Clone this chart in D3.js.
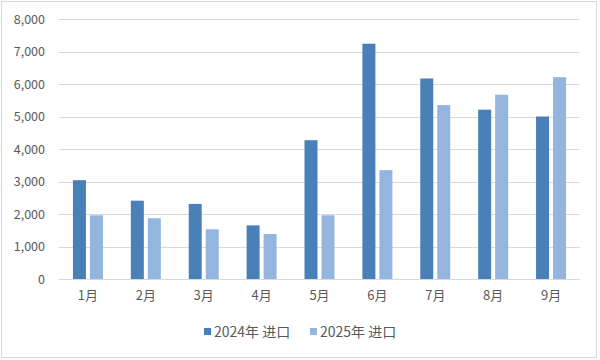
<!DOCTYPE html>
<html>
<head>
<meta charset="utf-8">
<script src="https://cdn.jsdelivr.net/npm/d3@7"></script>
<style>
  html, body { margin: 0; padding: 0; background: #fff; }
  svg { display: block; }
  text { font-family: "Noto Sans CJK SC", "Open Sans", sans-serif; fill: #595959; }
</style>
</head>
<body>
<svg id="chart" width="600" height="360"></svg>
<script>
const categories = ["1月", "2月", "3月", "4月", "5月", "6月", "7月", "8月", "9月"];
const seriesNames = ["2024年 进口", "2025年 进口"];
const imports2024 = [3040, 2410, 2310, 1650, 4270, 7240, 6170, 5210, 5000];
const imports2025 = [1960, 1870, 1530, 1385, 1960, 3350, 5350, 5670, 6210];
const yTicks = [0, 1000, 2000, 3000, 4000, 5000, 6000, 7000, 8000];
const colors = ["#4a80b8", "#93b5de"];

const svg = d3.select("#chart");
const W = 600, H = 360;
const margin = { left: 59, right: 20, top: 19, bottom: 81 };
const x0 = margin.left, x1 = W - margin.right;
const yTop = margin.top, yBot = H - margin.bottom;

// outer border
svg.append("rect").attr("x", 1.5).attr("y", 1.5).attr("width", W - 5).attr("height", H - 4)
  .attr("fill", "#fff").attr("stroke", "#d9d9d9").attr("stroke-width", 1);

const x = d3.scaleBand().domain(categories).range([x0, x1]).paddingInner(0).paddingOuter(0);
const y = d3.scaleLinear().domain([0, 8000]).range([yBot, yTop]);

// grid
svg.append("g").selectAll("line").data(yTicks).join("line")
  .attr("x1", x0).attr("x2", x1)
  .attr("y1", d => Math.round(y(d)) + 0.5).attr("y2", d => Math.round(y(d)) + 0.5)
  .attr("stroke", "#d9d9d9").attr("stroke-width", 1);

// y labels
const yAxis = d3.axisLeft(y).tickValues(yTicks).tickFormat(d3.format(",")).tickSize(0).tickPadding(0);
const yg = svg.append("g").attr("transform", `translate(${x0 - 14},0)`).call(yAxis);
yg.select(".domain").remove();
yg.selectAll("text").style("font-size", "12.5px").attr("fill", "#595959");

// bars
const barW = 13, gap = 4;
const series = [imports2024, imports2025];
series.forEach((vals, si) => {
  svg.append("g").selectAll("rect").data(categories).join("rect")
    .attr("x", (c) => x(c) + x.bandwidth() / 2 + (si === 0 ? -(gap / 2 + barW) : gap / 2))
    .attr("width", barW)
    .attr("y", (c, i) => y(vals[i]))
    .attr("height", (c, i) => y(0) - y(vals[i]))
    .attr("fill", colors[si]);
});

// x labels
const xAxis = d3.axisBottom(x).tickSize(0).tickPadding(0);
const xg = svg.append("g").attr("transform", `translate(0,${yBot + 12})`).call(xAxis);
xg.select(".domain").remove();
xg.selectAll("text").style("font-size", "13px").attr("fill", "#595959").attr("dy", "0.71em");

// legend
const legendItems = [{ x: 204 }, { x: 310 }];
const lg = svg.append("g");
seriesNames.forEach((name, i) => {
  const lx = legendItems[i].x;
  lg.append("rect").attr("x", lx).attr("y", 328).attr("width", 7).attr("height", 7).attr("fill", colors[i]);
  lg.append("text").attr("x", lx + 10).attr("y", 332).attr("dy", "0.35em")
    .style("font-size", "14px").text(name);
});
</script>
</body>
</html>
